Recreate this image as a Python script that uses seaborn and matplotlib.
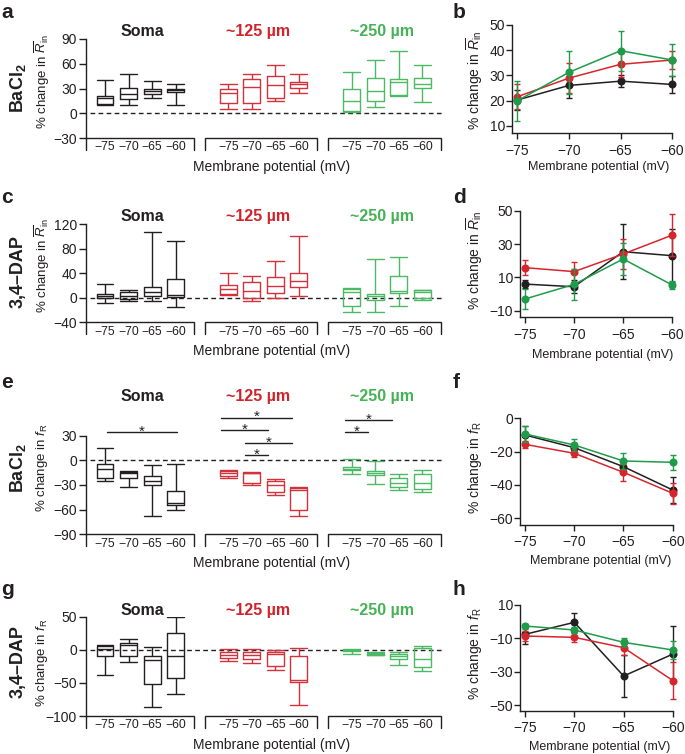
import numpy as np
import pandas as pd
import matplotlib
matplotlib.use('Agg')
import matplotlib.pyplot as plt
import matplotlib.transforms as mtransforms
from matplotlib import font_manager
import seaborn as sns

# ---------------- data ----------------
volts = [-75, -70, -65, -60]
volt_labels = ['−75', '−70', '−65', '−60']
regions = ['Soma', '~125 µm', '~250 µm']

# box panels: [min, q1, median, q3, max] at each membrane potential
a_soma = [[10, 11, 18, 21, 40], [10, 17, 23, 31, 47], [19, 23, 27, 30, 39], [10, 26, 28, 30, 35]]
a_125 = [[5, 13, 24, 29, 35], [5, 13, 32, 42, 47], [15, 19, 34, 45, 58], [24, 31, 35, 38, 48]]
a_250 = [[2, 2.5, 15, 30, 50], [8, 15, 27, 43, 65], [21, 22, 38, 42, 76], [14, 31, 36, 43, 59]]

c_soma = [[-8, 0, 3, 6, 22], [-6, -2, 3, 9, 13], [-5, 2, 9, 17, 107], [-15, 1.5, 4, 30, 93]]
c_125 = [[4, 6, 14, 20, 40], [-6, -1, 11, 26, 36], [0, 8, 19, 33, 60], [3, 17, 28, 41, 101]]
c_250 = [[-23, -13, 9, 14, 16], [-23, -3, 3, 6, 63], [-14, 7, 11, 35, 67], [-4, 0, 9, 12, 13]]

e_soma = [[-25, -22, -11, -4, 15], [-33, -21, -15, -14, -13], [-68, -30, -25, -19, -6], [-60, -54, -51.5, -37, -5]]
e_125 = [[-21, -19, -15, -13, -12], [-30, -27, -16, -15, -14], [-42, -38, -30, -25, -23], [-68, -60, -36, -34, -33]]
e_250 = [[-17, -12, -10, -8, 2], [-29, -18, -15, -13, -1], [-36, -32, -27, -22, -17], [-38, -35, -28, -17, -12]]

g_soma = [[-38, -10, 0.5, 5.5, 7], [-18, -10, 7, 10, 17], [-86, -51, -16, -9, 4], [-67, -43, -9, 26, 50]]
g_125 = [[-17, -13, -8, -4, 1], [-20, -14, -8, -4, 1], [-30, -25, -7, -4, 0], [-83, -48, -45, -10, 2]]
g_250 = [[-7, -2, -1, 0, 1], [-8, -7.5, -6, -4.5, -4], [-23, -14, -10, -7, -4], [-32, -25.5, -14, 2, 5]]

# significance brackets in panel e: (region index, from voltage index, to voltage index, height)
e_sig = [(0, 0, 3, 34), (1, 0, 3, 52), (1, 0, 2, 37), (1, 1, 3, 21), (1, 1, 2, 6.5),
         (2, 0, 2, 49), (2, 0, 1, 34)]

# line panels: mean and s.e.m.
b_mean = [[20.2, 26.0, 27.7, 26.4], [21.5, 28.9, 34.4, 36.1], [19.9, 31.2, 39.8, 36.1]]
b_sem = [[4, 5, 2.5, 3.5], [5, 6, 5, 3.5], [8, 8.5, 8, 6.3]]

d_mean = [[6.0, 4.4, 25.5, 23.1], [15.9, 13.5, 24.1, 35.5], [-3.0, 5.8, 21.1, 5.4]]
d_sem = [[2.5, 4, 16.5, 16], [4.6, 6, 9, 12.5], [6.3, 9.5, 9.5, 2.5]]

f_mean = [[-10.0, -17.6, -29.0, -43.0], [-15.6, -21.0, -32.4, -45.0], [-9.4, -16.0, -25.6, -26.4]]
f_sem = [[5.5, 2.5, 4, 8], [2, 2.5, 5, 6.3], [5, 3.4, 5, 4.5]]

h_mean = [[-7.6, -0.4, -32.6, -19.4], [-8.6, -9.4, -15.6, -35.4], [-2.6, -5.0, -12.4, -17.0]]
h_sem = [[6, 5.5, 12.5, 17], [3, 3, 4.5, 11], [1.5, 2, 2.5, 5.5]]

# ---------------- style ----------------
INK = '#231f20'
BOX_COLORS = ['#231f20', '#d2323a', '#4db865']
LINE_COLORS = ['#231f20', '#d6262d', '#1f9b4a']
TITLE_COLORS = ['#231f20', '#d2232a', '#45b255']

sns.set_style('ticks')
plt.rcParams['font.family'] = ['Liberation Sans', 'DejaVu Sans']
plt.rcParams['mathtext.fontset'] = 'custom'
plt.rcParams['mathtext.rm'] = 'Liberation Sans'
plt.rcParams['mathtext.it'] = 'Liberation Sans:italic'
plt.rcParams['mathtext.bf'] = 'Liberation Sans:bold'
plt.rcParams['axes.linewidth'] = 1.0
plt.rcParams['axes.edgecolor'] = INK
plt.rcParams['xtick.color'] = INK
plt.rcParams['ytick.color'] = INK
plt.rcParams['text.color'] = INK
plt.rcParams['axes.labelcolor'] = INK

names = {f.name for f in font_manager.fontManager.ttflist}
NARROW = 'Liberation Sans Narrow' if 'Liberation Sans Narrow' in names else 'Liberation Sans'

W, H = 685, 754
fig = plt.figure(figsize=(W / 100, H / 100), dpi=100)


def add_ax(l, t, r, b):
    return fig.add_axes([l / W, 1 - b / H, (r - l) / W, (b - t) / H])


def ftext(x, y, s, **kw):
    return fig.text(x / W, 1 - y / H, s, **kw)


GROUP_STEP = 5.25
BOX_W = 0.72
R_LABEL = r'% change in $\overline{R}_{\mathrm{in}}$'
F_LABEL = r'% change in $f_{\mathrm{R}}$'


def box_panel(ax, groups, ylim, yticks, ylabel, ylab_y, height_px):
    rows = []
    for ri, summ in enumerate(groups):
        for vi, five in enumerate(summ):
            for val in five:
                rows.append({'region': regions[ri], 'pos': ri * GROUP_STEP + vi, 'value': val})
    df = pd.DataFrame(rows)
    ax.axhline(0, xmin=0.011, xmax=1.0, color=INK, lw=1.0, ls=(0, (3.4, 2.4)), zorder=0.5)
    sns.boxplot(data=df, x='pos', y='value', hue='region', hue_order=regions,
                palette=BOX_COLORS, fill=False, whis=(0, 100), width=BOX_W,
                native_scale=True, linewidth=1.0, legend=False, ax=ax,
                saturation=1, capwidths=BOX_W, showfliers=False)
    ax.set_xlim(-0.81, 14.38)
    ax.set_ylim(*ylim)
    ax.set_yticks(yticks)
    positions = [ri * GROUP_STEP + vi for ri in range(3) for vi in range(4)]
    ax.set_xticks(positions)
    ax.set_xticklabels(volt_labels * 3, fontsize=8.8, family=NARROW)
    ax.tick_params(axis='x', length=0, pad=2.5)
    ax.tick_params(axis='y', length=5, width=1, pad=1.5, labelsize=10)
    sns.despine(ax=ax, bottom=True)
    # group brackets under the boxes
    trans = mtransforms.blended_transform_factory(ax.transData, ax.transAxes)
    tick = 12 / height_px
    for ri in range(3):
        x0 = -0.81 if ri == 0 else ri * GROUP_STEP - 1.0
        x1 = ri * GROUP_STEP + 3 + 0.78
        ax.plot([x0, x0, x1, x1], [-tick, 0, 0, -tick], transform=trans, color=INK,
                lw=1.0, clip_on=False, solid_joinstyle='miter')
    ax.set_ylabel(ylabel, fontsize=9.5)
    ax.yaxis.set_label_coords(-0.123, ylab_y)
    ax.yaxis.label.set_va('center')
    ax.yaxis.label.set_rotation_mode('anchor')
    ax.set_xlabel('Membrane potential (mV)', fontsize=10)
    ax.xaxis.set_label_coords(0.521, -0.335)
    ax.xaxis.label.set_va('baseline')


def line_panel(ax, means, sems, ylim, yticks, ylabel, lab_x, lab_y, xlab_x, xlab_y):
    for ri in range(3):
        ax.errorbar(volts, means[ri], yerr=sems[ri], fmt='none', ecolor=LINE_COLORS[ri],
                    elinewidth=1.0, capsize=2.0, capthick=1.0, clip_on=False, zorder=2 + ri)
        sns.lineplot(x=volts, y=means[ri], color=LINE_COLORS[ri], marker='o', markersize=5.8,
                     markeredgewidth=0, linewidth=1.1, ax=ax, clip_on=False, zorder=2.5 + ri)
    ax.set_xlim(-75.5, -60)
    ax.set_ylim(*ylim)
    ax.set_xticks(volts)
    ax.set_yticks(yticks)
    ax.tick_params(axis='both', length=4, width=1, labelsize=10)
    ax.tick_params(axis='y', pad=0.8)
    ax.tick_params(axis='x', pad=3.5)
    sns.despine(ax=ax)
    ax.set_ylabel(ylabel, fontsize=10)
    ax.yaxis.set_label_coords(lab_x, lab_y)
    ax.yaxis.label.set_va('center')
    ax.yaxis.label.set_rotation_mode('anchor')
    ax.set_xlabel('Membrane potential (mV)', fontsize=9)
    ax.xaxis.set_label_coords(xlab_x, xlab_y)
    ax.xaxis.label.set_va('baseline')


# ---- box panels ----
ax_a = add_ax(86, 39, 443, 138)
box_panel(ax_a, [a_soma, a_125, a_250], (-30, 90), [-30, 0, 30, 60, 90], R_LABEL, 0.566, 99)
ax_c = add_ax(86, 224, 443, 322.3)
box_panel(ax_c, [c_soma, c_125, c_250], (-40, 120), [-40, 0, 40, 80, 120], R_LABEL, 0.573, 98.3)
ax_e = add_ax(86, 435.7, 443, 534.3)
box_panel(ax_e, [e_soma, e_125, e_250], (-90, 30), [-90, -60, -30, 0, 30], F_LABEL, 0.67, 98.6)
ax_g = add_ax(86, 616.7, 443, 716)
box_panel(ax_g, [g_soma, g_125, g_250], (-100, 50), [-100, -50, 0, 50], F_LABEL, 0.54, 99.3)

# significance marks in e
for ri, i0, i1, yv in e_sig:
    off = 0.08 if ri == 0 else -0.3
    x0 = ri * GROUP_STEP + i0 + off
    x1 = ri * GROUP_STEP + i1 + off
    ax_e.plot([x0, x1], [yv, yv], color=INK, lw=1.0, clip_on=False)
    ax_e.annotate('*', xy=((x0 + x1) / 2, yv), xytext=(0, -2.5), textcoords='offset points',
                  ha='center', va='baseline', fontsize=11, annotation_clip=False)

# ---- line panels ----
ax_b = add_ax(512, 25, 672.3, 133.3)
line_panel(ax_b, b_mean, b_sem, (7, 50), [10, 20, 30, 40, 50], R_LABEL, -0.231, 0.49, 0.543, -0.339)
ax_d = add_ax(520, 211, 672.3, 317.3)
line_panel(ax_d, d_mean, d_sem, (-14, 50), [-10, 10, 30, 50], R_LABEL, -0.295, 0.54, 0.545, -0.383)
ax_f = add_ax(520, 418.3, 672.7, 525)
line_panel(ax_f, f_mean, f_sem, (-64, 0), [-60, -40, -20, 0], F_LABEL, -0.295, 0.54, 0.53, -0.37)
ax_h = add_ax(520, 605, 673, 710.7)
line_panel(ax_h, h_mean, h_sem, (-53.4, 10), [-50, -30, -10, 10], F_LABEL, -0.295, 0.54, 0.523, -0.372)

# ---- titles, row labels, panel letters ----
for yb in [36, 221, 401, 615]:
    for ri, xc in enumerate([142, 258, 382]):
        ftext(xc, yb, regions[ri], ha='center', va='baseline', fontsize=11.5,
              fontweight='bold', color=TITLE_COLORS[ri])

for s, x, y in [(r'BaCl$_{\mathbf{2}}$', 18, 88), ('3,4–DAP', 18, 272),
                (r'BaCl$_{\mathbf{2}}$', 18, 468), ('3,4–DAP', 18, 662)]:
    ftext(x, y, s, rotation=90, ha='center', va='center', fontsize=13, fontweight='bold')

for s, x, y in [('a', 1, 18), ('b', 453, 18), ('c', 1, 203), ('d', 453, 203),
                ('e', 1, 388), ('f', 453, 388), ('g', 1, 595), ('h', 453, 595)]:
    ftext(x, y, s, ha='left', va='baseline', fontsize=15, fontweight='bold')

fig.savefig('out.png', dpi=100)
